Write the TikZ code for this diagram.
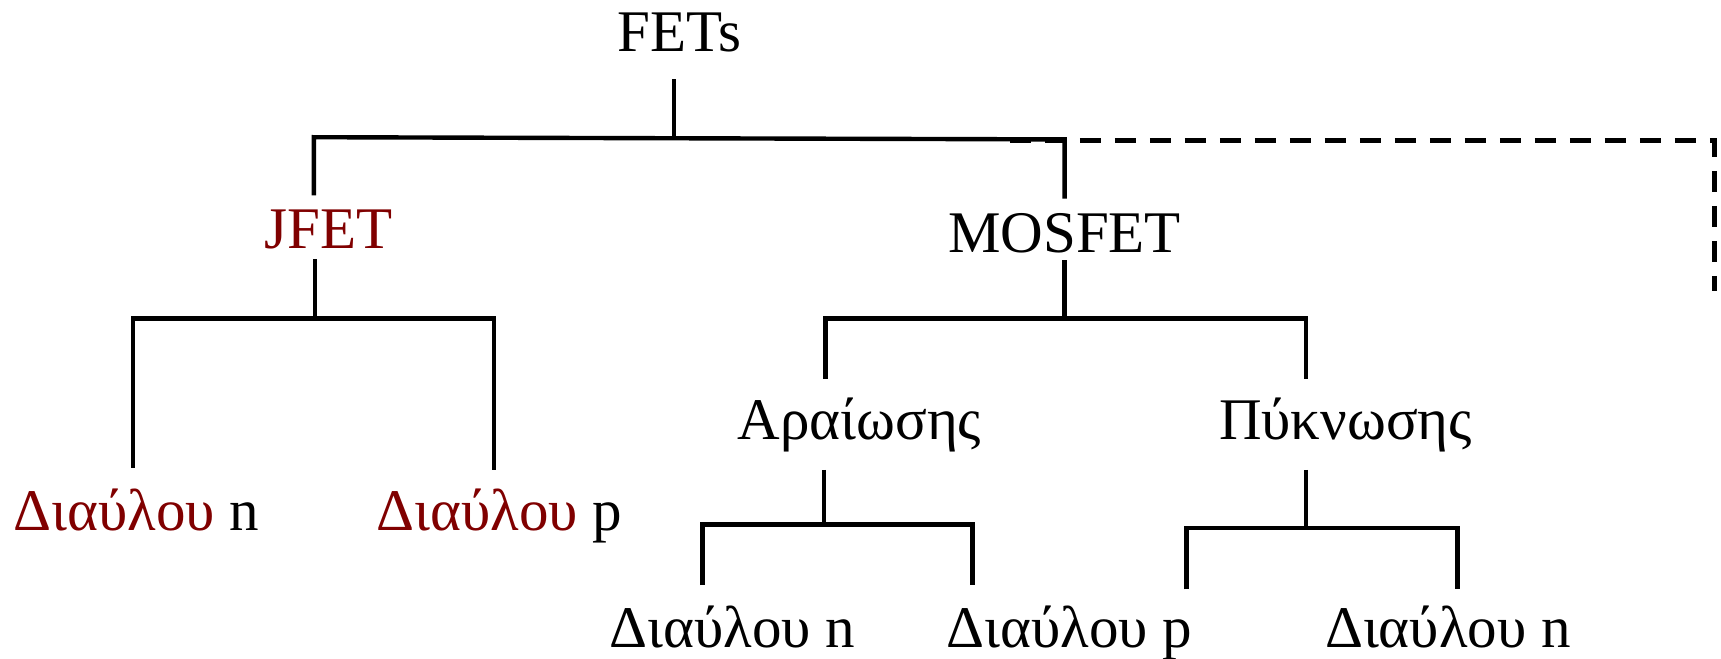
\documentclass[tikz,border=0pt]{standalone}
\usepackage{fontspec}
\setmainfont{Liberation Serif}
\definecolor{jred}{RGB}{128,0,0}
\begin{document}
\begin{tikzpicture}[x=0.5488pt,y=-0.5488pt,
  lbl/.style={font=\fontsize{29.5}{34}\selectfont,inner sep=0pt,anchor=base},
  lblw/.style={lbl,anchor=base west},
  branch/.style={line width=2.2pt,line cap=butt,line join=miter},
  dashbranch/.style={branch,line width=2.7pt,dash pattern=on 10.5pt off 7pt}]
\useasboundingbox (0,0) rectangle (1568,600);
% nodes
\node[lbl] (fets) at (619,47) {FETs};
\node[lbl,text=jred] (jfet) at (299,226) {JFET};
\node[lbl] (mosfet) at (970,230) {MOSFET};
\node[lbl] (arai) at (783,400) {Αραίωσης};
\node[lbl] (pyk) at (1226,400) {Πύκνωσης};
\node[lblw] (jn) at (12,483) {\textcolor{jred}{Διαύλου} n};
\node[lblw] (jp) at (343,483) {\textcolor{jred}{Διαύλου} p};
\node[lblw] (an) at (555,590) {Διαύλου n};
\node[lblw] (ap) at (862,590) {Διαύλου p};
\node[lblw] (pn) at (1207,590) {Διαύλου n};
% junction coordinates
\coordinate (fetsB) at (614,72);  \coordinate (fetsJ) at (614,125);
\coordinate (jfetT) at (286,178); \coordinate (mosT) at (970,181);
\coordinate (jfetB) at (287,236); \coordinate (jfetJ) at (287,290);
\coordinate (jnT) at (121,426);   \coordinate (jpT) at (450,428);
\coordinate (mosB) at (970,237);  \coordinate (mosJ) at (970,290);
\coordinate (araiT) at (752,345); \coordinate (pykT) at (1190,345);
\coordinate (araiB) at (751,428); \coordinate (araiJ) at (751,478);
\coordinate (anT) at (640,533);   \coordinate (apT) at (886,533);
\coordinate (pykB) at (1190,428); \coordinate (pykJ) at (1190,481);
\coordinate (pkL) at (1081,537);  \coordinate (pnT) at (1328,537);
\coordinate (dashS) at (920,128); \coordinate (dashC) at (1562,128);
\coordinate (dashE) at (1562,265);
% connectors
\draw[branch] (fetsB) -- (fetsJ);
\draw[branch] (jfetT) -- (286,125) -- (970,127) -- (mosT);
\draw[branch] (jfetB) -- (jfetJ);
\draw[branch] (jnT) -- (121,290) -- (450,290) -- (jpT);
\draw[branch] (mosB) -- (mosJ);
\draw[branch] (araiT) -- (752,290) -- (1190,290) -- (pykT);
\draw[branch] (araiB) -- (araiJ);
\draw[branch] (anT) -- (640,478) -- (886,478) -- (apT);
\draw[branch] (pykB) -- (pykJ);
\draw[branch] (pkL) -- (1081,481) -- (1328,481) -- (pnT);
\draw[dashbranch] (dashS) -- (dashC) -- (dashE);
\end{tikzpicture}
\end{document}
